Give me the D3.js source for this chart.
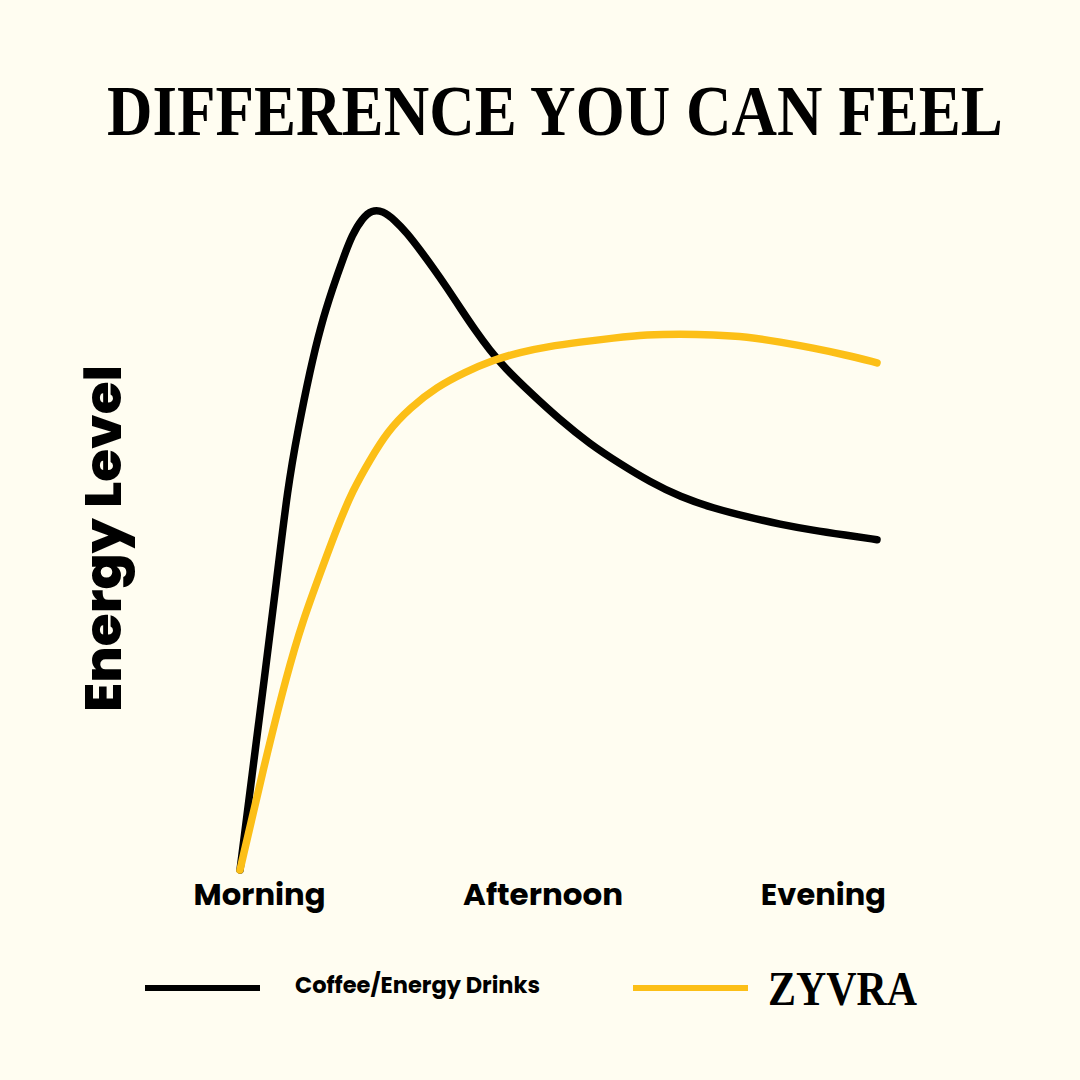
<!DOCTYPE html>
<html>
<head>
<meta charset="utf-8">
<script src="https://cdn.jsdelivr.net/npm/d3@7"></script>
<style>
  html, body { margin: 0; padding: 0; background: #FFFDF1; }
  svg { display: block; }
</style>
</head>
<body>
<svg id="chart" width="1080" height="1080"></svg>
<script>
// ---- data ----
const title = "DIFFERENCE YOU CAN FEEL";
const yAxisLabel = "Energy Level";
const xTickLabels = ["Morning", "Afternoon", "Evening"];
const xTickPositions = [3, 47.5, 91.5];
const seriesNames = ["Coffee/Energy Drinks", "ZYVRA"];
const coffeeT = [0, 1.9, 3.8, 5.7, 7.5, 9.1, 11.0, 12.7, 14.6, 16.2, 17.6, 19.2, 20.7, 22.4, 24.3, 26.2, 28.3, 30.3, 32.5, 34.7, 36.9, 39.2, 41.6, 45.5, 50.2, 54.9, 59.7, 64.4, 69.1, 74.3, 79.6, 84.8, 90.0, 95.0, 100];
const coffeeEnergy = [0, 14.2, 28.4, 42.8, 57.2, 65.7, 74.6, 81.3, 87.0, 91.3, 94.8, 97.3, 98.5, 98.4, 97.0, 95.1, 92.5, 89.9, 86.9, 83.7, 80.6, 77.6, 74.9, 71.3, 67.2, 63.6, 60.6, 57.9, 55.7, 54.0, 52.7, 51.6, 50.7, 50.0, 49.3];
const zyvraT = [0, 3.6, 7.4, 9.9, 12.6, 15.2, 17.7, 20.4, 23.1, 26.7, 30.9, 35.3, 39.7, 44.0, 48.2, 53.4, 58.6, 63.9, 69.1, 74.3, 79.6, 84.8, 90.0, 95.0, 100];
const zyvraEnergy = [0, 14.9, 29.4, 37.3, 44.3, 51.0, 56.7, 61.2, 65.4, 69.0, 72.1, 74.3, 76.1, 77.3, 78.1, 78.8, 79.4, 79.9, 80.0, 79.9, 79.6, 78.8, 77.9, 76.9, 75.7];

// ---- drawing ----
const svg = d3.select("#chart");
svg.append("rect").attr("width", 1080).attr("height", 1080).attr("fill", "#FFFDF1");

const x = d3.scaleLinear().domain([0, 100]).range([240, 877]);
const y = d3.scaleLinear().domain([0, 100]).range([870, 200]);

const sansBold = "Poppins, Inter, 'Open Sans', sans-serif";
const serifBold = "'Liberation Serif', 'DejaVu Serif', serif";

// fit a text horizontally to a target width by scaling
function fitText(sel, x0, yb, target) {
  const w = sel.node().getComputedTextLength();
  const s = target / w;
  sel.attr("x", 0).attr("y", 0)
     .attr("transform", `translate(${x0},${yb}) scale(${s},1)`);
}

// title
const t = svg.append("text")
  .attr("font-family", serifBold).attr("font-weight", 700)
  .attr("font-size", 71)
  .attr("fill", "#000")
  .text(title);
fitText(t, 107, 135, 896);

// y axis label
svg.append("text")
  .attr("transform", "translate(121,712) rotate(-90)")
  .attr("font-family", sansBold).attr("font-weight", 800)
  .attr("font-size", 50)
  .attr("textLength", 347).attr("lengthAdjust", "spacingAndGlyphs")
  .attr("fill", "#000")
  .text(yAxisLabel);

// x axis tick labels
const xAxis = d3.axisBottom(x)
  .tickValues(xTickPositions)
  .tickFormat((d, i) => xTickLabels[i])
  .tickSize(0).tickPadding(0);
const gx = svg.append("g").attr("transform", "translate(0,880)").call(xAxis);
gx.select(".domain").remove();
const tickWidths = [132, 160, 125];
gx.selectAll(".tick text")
  .attr("y", 25).attr("dy", null)
  .attr("font-family", sansBold).attr("font-weight", 700)
  .attr("font-size", 30).attr("fill", "#000")
  .attr("textLength", (d, i) => tickWidths[i]).attr("lengthAdjust", "spacingAndGlyphs");

// lines
const line = d3.line().x(d => x(d[0])).y(d => y(d[1])).curve(d3.curveBasis);
const coffee = coffeeT.map((t, i) => [t, coffeeEnergy[i]]);
const zyvra = zyvraT.map((t, i) => [t, zyvraEnergy[i]]);

svg.append("path").datum(coffee).attr("d", line)
  .attr("fill", "none").attr("stroke", "#000").attr("stroke-width", 7.5)
  .attr("stroke-linecap", "round").attr("stroke-linejoin", "round");
svg.append("path").datum(zyvra).attr("d", line)
  .attr("fill", "none").attr("stroke", "#FCBF17").attr("stroke-width", 7.5)
  .attr("stroke-linecap", "round").attr("stroke-linejoin", "round");

// legend
const lg = svg.append("g");
lg.append("line").attr("x1", 145).attr("x2", 260).attr("y1", 988).attr("y2", 988)
  .attr("stroke", "#000").attr("stroke-width", 6);
lg.append("text").attr("x", 295).attr("y", 993)
  .attr("font-family", sansBold).attr("font-weight", 700).attr("font-size", 22)
  .attr("textLength", 245).attr("lengthAdjust", "spacingAndGlyphs")
  .attr("fill", "#000").text(seriesNames[0]);
lg.append("line").attr("x1", 633).attr("x2", 748).attr("y1", 988).attr("y2", 988)
  .attr("stroke", "#FCBF17").attr("stroke-width", 6);
lg.append("text").attr("x", 768).attr("y", 1005)
  .attr("font-family", serifBold).attr("font-weight", 700).attr("font-size", 48)
  .attr("textLength", 149).attr("lengthAdjust", "spacingAndGlyphs")
  .attr("fill", "#000").text(seriesNames[1]);
</script>
</body>
</html>
